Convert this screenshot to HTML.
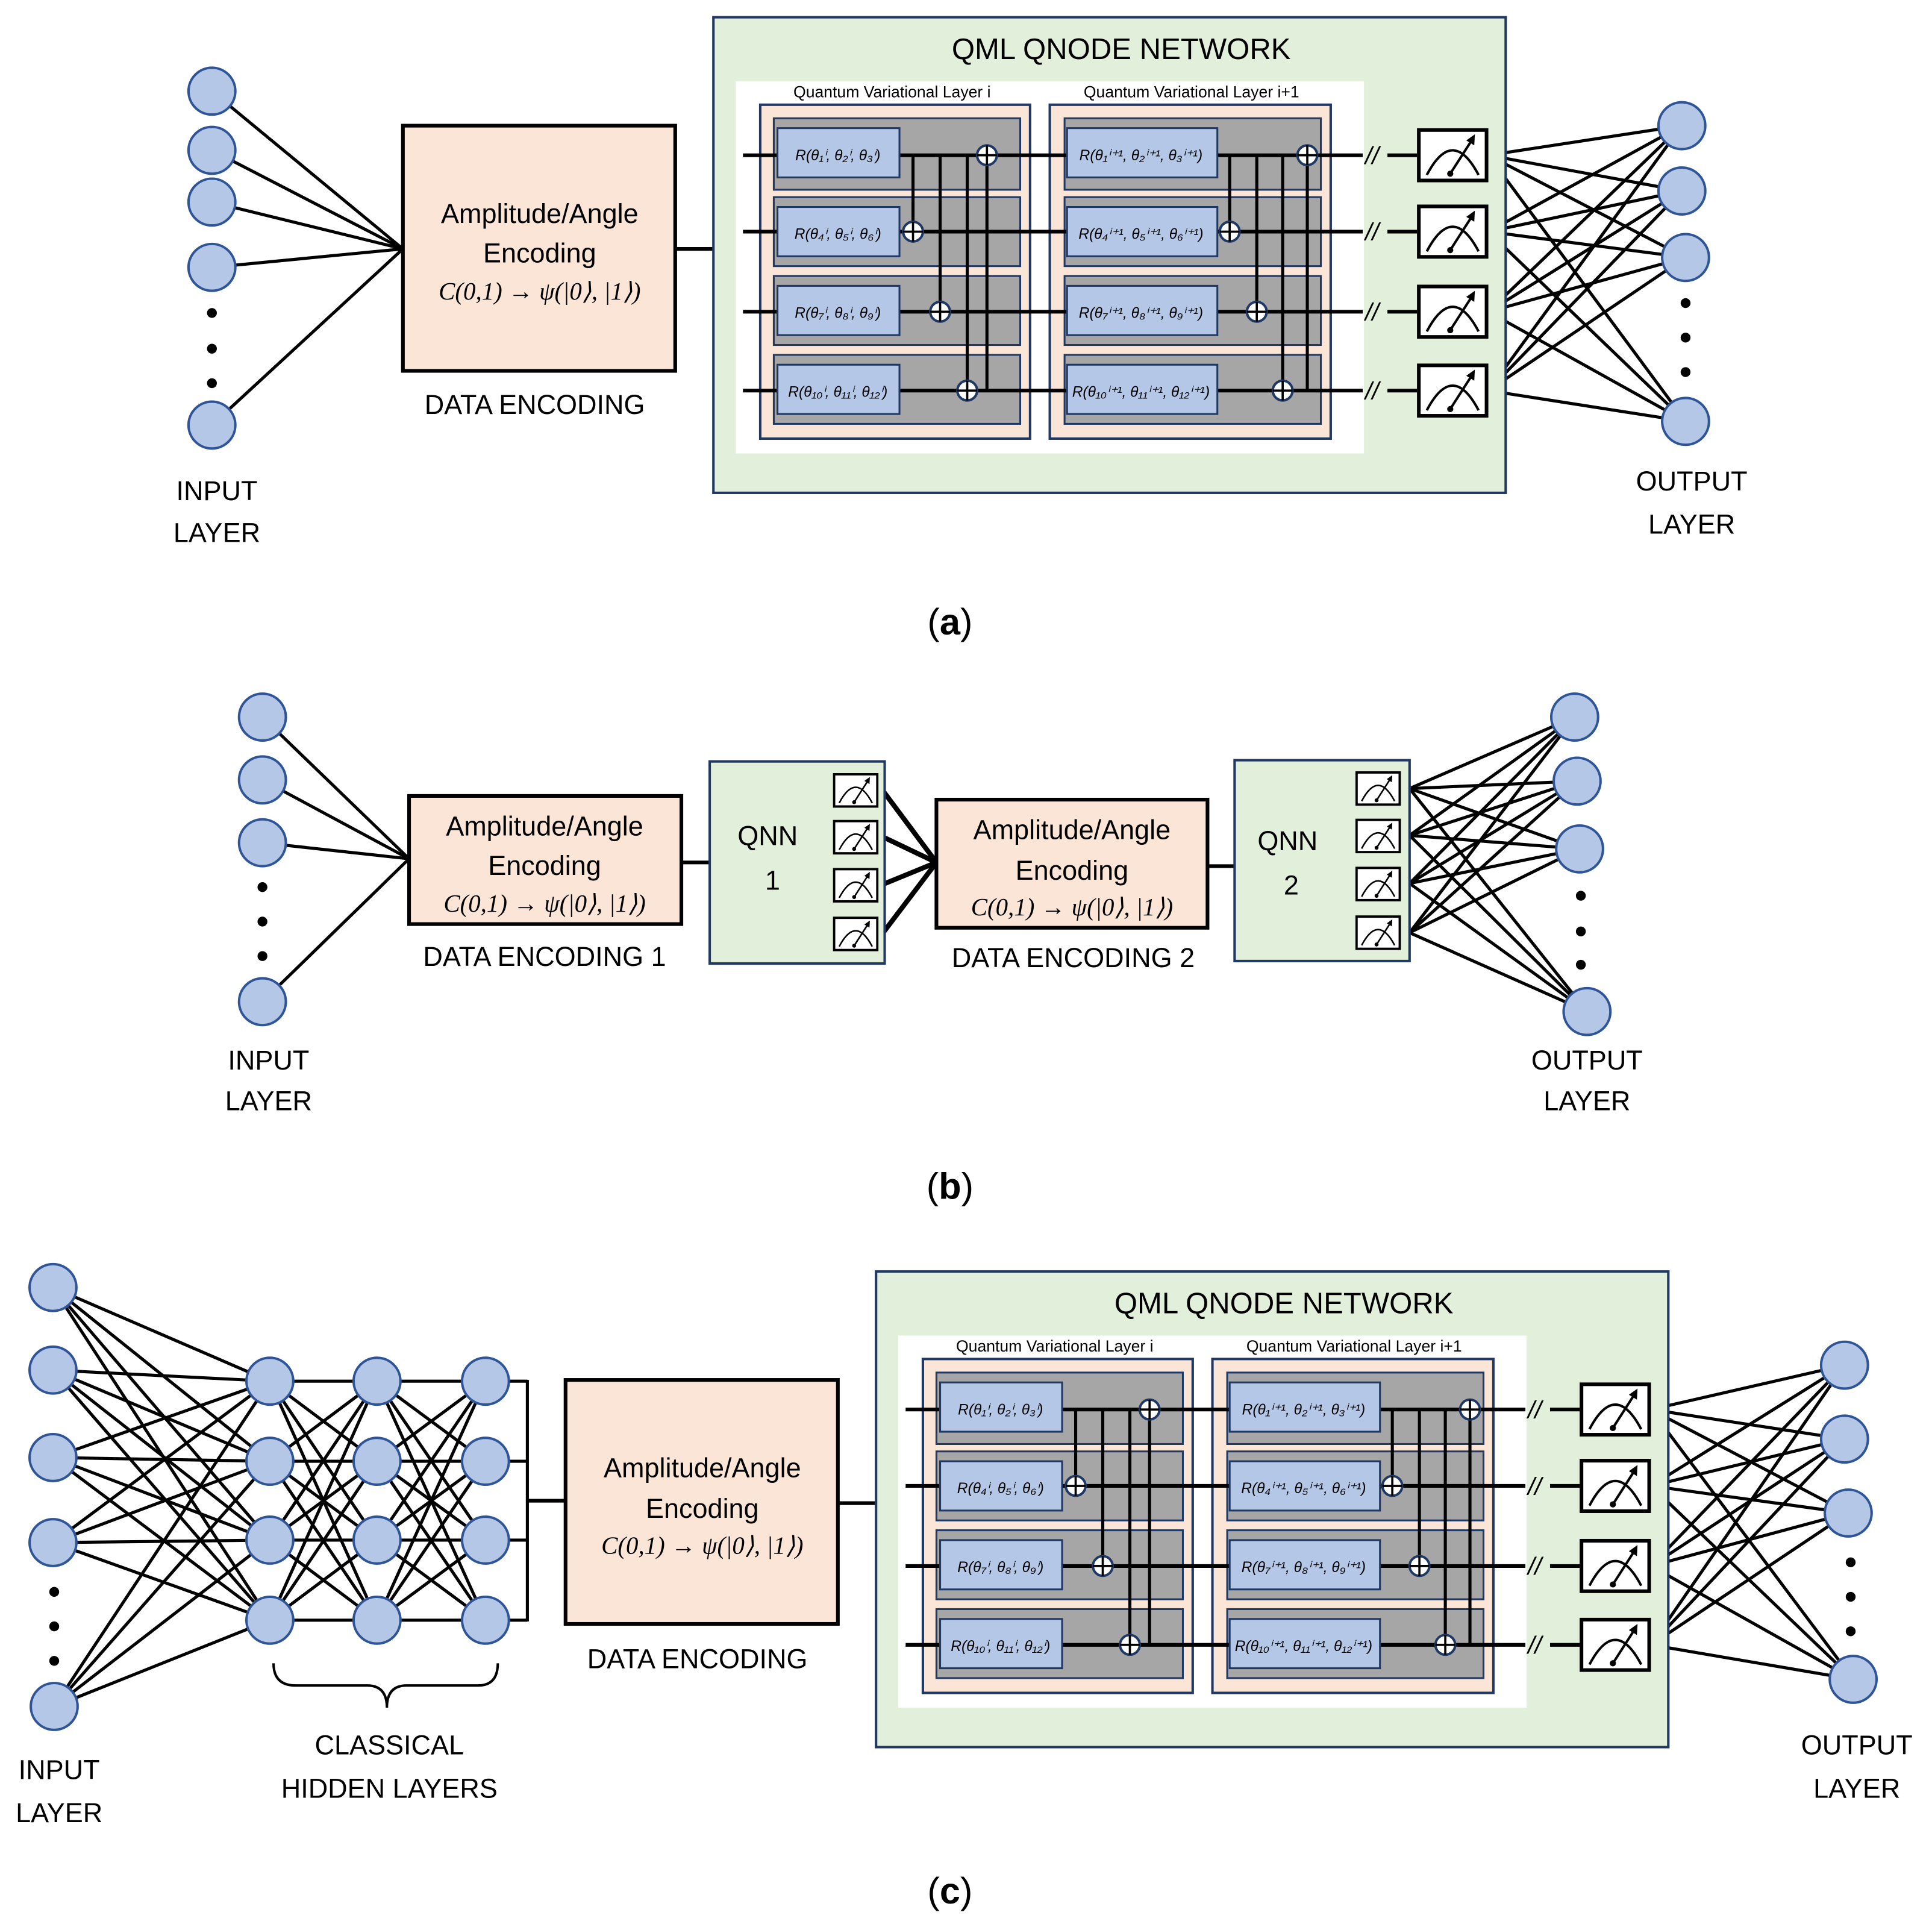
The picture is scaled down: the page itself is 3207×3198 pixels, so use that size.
<!DOCTYPE html>
<html><head><meta charset="utf-8"><style>
html,body{margin:0;padding:0;background:#fff}
svg{display:block}
text{font-family:"Liberation Sans",sans-serif;fill:#000}
.g{font-family:"Liberation Serif",serif;font-style:italic;font-size:12px}
.f{font-family:"Liberation Serif",serif;font-style:italic;font-size:20px}
</style></head><body>
<svg id="s" xmlns="http://www.w3.org/2000/svg" xmlns:xlink="http://www.w3.org/1999/xlink" width="3207" height="3198" viewBox="0 0 1568 1564" preserveAspectRatio="none">
<defs>
<symbol id="m" viewBox="0 0 58 44">
<rect x="1.5" y="1.5" width="55" height="41" fill="#fff" stroke="#000" stroke-width="3"/>
<path d="M8 38 Q29 -2 50 38" fill="none" stroke="#000" stroke-width="2"/>
<line x1="27" y1="37" x2="45" y2="9" stroke="#000" stroke-width="2"/>
<path d="M47 5 L46.5 14 L40 10 Z" fill="#000"/>
<circle cx="27" cy="37" r="2.5" fill="#000"/>
</symbol>
<g id="qml">
<rect x="579" y="14" width="643" height="386" fill="#e2efda" stroke="#1f3864" stroke-width="2"/>
<text x="910" y="48" font-size="24" text-anchor="middle">QML QNODE NETWORK</text>
<rect x="597" y="66" width="510" height="302" fill="#fff"/>
<text x="724" y="79" font-size="13" text-anchor="middle">Quantum Variational Layer i</text>
<text x="967" y="79" font-size="13" text-anchor="middle">Quantum Variational Layer i+1</text>
<rect x="617" y="85" width="219" height="271" fill="#fbe5d6" stroke="#1f3864" stroke-width="2"/>
<rect x="852" y="85" width="228" height="271" fill="#fbe5d6" stroke="#1f3864" stroke-width="2"/>
<g fill="#a6a6a6" stroke="#1f3864" stroke-width="1.5">
<rect x="628" y="96" width="200" height="58"/><rect x="628" y="160" width="200" height="56"/>
<rect x="628" y="224" width="200" height="56"/><rect x="628" y="288" width="200" height="56"/>
<rect x="864" y="96" width="208" height="58"/><rect x="864" y="160" width="208" height="56"/>
<rect x="864" y="224" width="208" height="56"/><rect x="864" y="288" width="208" height="56"/>
</g>
<g id="w"></g>
<g fill="#b4c7e7" stroke="#1f3864" stroke-width="1.5">
<rect x="631" y="104" width="99" height="40"/><rect x="631" y="168" width="99" height="40"/>
<rect x="631" y="232" width="99" height="40"/><rect x="631" y="296" width="99" height="40"/>
<rect x="866" y="104" width="122" height="40"/><rect x="866" y="168" width="122" height="40"/>
<rect x="866" y="232" width="122" height="40"/><rect x="866" y="296" width="122" height="40"/>
</g>
<g class="g" text-anchor="middle">
<text x="680" y="130">R(θ₁ⁱ, θ₂ⁱ, θ₃ⁱ)</text>
<text x="680" y="194">R(θ₄ⁱ, θ₅ⁱ, θ₆ⁱ)</text>
<text x="680" y="258">R(θ₇ⁱ, θ₈ⁱ, θ₉ⁱ)</text>
<text x="680" y="322">R(θ₁₀ⁱ, θ₁₁ⁱ, θ₁₂ⁱ)</text>
<text x="926" y="130">R(θ₁ⁱ⁺¹, θ₂ⁱ⁺¹, θ₃ⁱ⁺¹)</text>
<text x="926" y="194">R(θ₄ⁱ⁺¹, θ₅ⁱ⁺¹, θ₆ⁱ⁺¹)</text>
<text x="926" y="258">R(θ₇ⁱ⁺¹, θ₈ⁱ⁺¹, θ₉ⁱ⁺¹)</text>
<text x="926" y="322">R(θ₁₀ⁱ⁺¹, θ₁₁ⁱ⁺¹, θ₁₂ⁱ⁺¹)</text>
</g>
<g id="c"></g>
<g font-size="20" font-style="italic">
<text x="1108" y="133">//</text><text x="1108" y="195">//</text><text x="1108" y="260">//</text><text x="1108" y="324">//</text>
</g>
<use xlink:href="#m" x="1150" y="104" width="58" height="44"/>
<use xlink:href="#m" x="1150" y="166" width="58" height="44"/>
<use xlink:href="#m" x="1150" y="231" width="58" height="44"/>
<use xlink:href="#m" x="1150" y="295" width="58" height="44"/>
</g>
</defs>
<g id="lines"></g>
<use xlink:href="#qml"/>
<use xlink:href="#qml" transform="translate(132,1018)"/>
<rect x="327" y="102" width="221" height="199" fill="#fbe5d6" stroke="#000" stroke-width="3"/>
<g font-size="22" text-anchor="middle">
<text x="438" y="181">Amplitude/Angle</text><text x="438" y="213">Encoding</text>
<text x="434" y="336">DATA ENCODING</text>
<text x="176" y="406">INPUT</text><text x="176" y="440">LAYER</text>
<text x="1373" y="398">OUTPUT</text><text x="1373" y="433">LAYER</text>
</g>
<text class="f" x="438" y="243" text-anchor="middle">C(0,1) → ψ(|0⟩, |1⟩)</text>
<text x="771" y="515" font-family="Liberation Serif" font-size="30" text-anchor="middle">(<tspan font-weight="bold">a</tspan>)</text>
<rect x="332" y="646" width="221" height="104" fill="#fbe5d6" stroke="#000" stroke-width="3"/>
<rect x="760" y="649" width="220" height="104" fill="#fbe5d6" stroke="#000" stroke-width="3"/>
<rect x="576" y="618" width="142" height="164" fill="#e2efda" stroke="#1f3864" stroke-width="2"/>
<rect x="1002" y="617" width="142" height="163" fill="#e2efda" stroke="#1f3864" stroke-width="2"/>
<g font-size="22" text-anchor="middle">
<text x="442" y="678">Amplitude/Angle</text><text x="442" y="710">Encoding</text>
<text x="442" y="784">DATA ENCODING 1</text>
<text x="870" y="681">Amplitude/Angle</text><text x="870" y="714">Encoding</text>
<text x="871" y="785">DATA ENCODING 2</text>
<text x="623" y="686">QNN</text><text x="627" y="722">1</text>
<text x="1045" y="690">QNN</text><text x="1048" y="726">2</text>
<text x="218" y="868">INPUT</text><text x="218" y="901">LAYER</text>
<text x="1288" y="868">OUTPUT</text><text x="1288" y="901">LAYER</text>
</g>
<text class="f" x="442" y="740" text-anchor="middle">C(0,1) → ψ(|0⟩, |1⟩)</text>
<text class="f" x="870" y="743" text-anchor="middle">C(0,1) → ψ(|0⟩, |1⟩)</text>
<use xlink:href="#m" x="676" y="627" width="37" height="29"/>
<use xlink:href="#m" x="676" y="665" width="37" height="29"/>
<use xlink:href="#m" x="676" y="704" width="37" height="29"/>
<use xlink:href="#m" x="676" y="743" width="37" height="30"/>
<use xlink:href="#m" x="1100" y="626" width="37" height="28"/>
<use xlink:href="#m" x="1100" y="664" width="37" height="29"/>
<use xlink:href="#m" x="1100" y="703" width="37" height="29"/>
<use xlink:href="#m" x="1100" y="742" width="37" height="30"/>
<text x="771" y="973" font-family="Liberation Serif" font-size="30" text-anchor="middle">(<tspan font-weight="bold">b</tspan>)</text>
<rect x="459" y="1120" width="221" height="198" fill="#fbe5d6" stroke="#000" stroke-width="3"/>
<g font-size="22" text-anchor="middle">
<text x="570" y="1199">Amplitude/Angle</text><text x="570" y="1232">Encoding</text>
<text x="566" y="1354">DATA ENCODING</text>
<text x="316" y="1424">CLASSICAL</text><text x="316" y="1459">HIDDEN LAYERS</text>
<text x="48" y="1444">INPUT</text><text x="48" y="1479">LAYER</text>
<text x="1507" y="1424">OUTPUT</text><text x="1507" y="1459">LAYER</text>
</g>
<text class="f" x="570" y="1261" text-anchor="middle">C(0,1) → ψ(|0⟩, |1⟩)</text>
<path d="M222 1350 Q222 1368 240 1368 L298 1368 Q314 1368 314 1386 Q314 1368 330 1368 L388 1368 Q404 1368 404 1350" fill="none" stroke="#000" stroke-width="2"/>
<text x="771" y="1545" font-family="Liberation Serif" font-size="30" text-anchor="middle">(<tspan font-weight="bold">c</tspan>)</text>
<g id="nodes"></g>
<script>
var NS="http://www.w3.org/2000/svg";
function el(p,t,a){var e=document.createElementNS(NS,t);for(var k in a)e.setAttribute(k,a[k]);document.getElementById(p).appendChild(e);return e;}
function L(p,x1,y1,x2,y2,w){el(p,"line",{x1:x1,y1:y1,x2:x2,y2:y2,stroke:"#000","stroke-width":w||2.5});}
function N(x,y,r){el("nodes","circle",{cx:x,cy:y,r:r||19,fill:"#b4c7e7",stroke:"#2f5597","stroke-width":2});}
function D(x,y){el("nodes","circle",{cx:x,cy:y,r:4,fill:"#000"});}
function bip(A,B,w){A.forEach(function(a){B.forEach(function(b){L("lines",a[0],a[1],b[0],b[1],w);});});}
var W=[126,188,253,317];
W.forEach(function(y){L("w",603,y,1106,y,3);L("w",1126,y,1150,y,3);});
function cnot(x,yc,yt){L("c",x,yc,x,yt,2.5);el("c","circle",{cx:x,cy:yt,r:8,fill:"#fff",stroke:"#1f3864","stroke-width":2});L("c",x-8,yt,x+8,yt,1.8);L("c",x,yt-8,x,yt+8,1.8);}
cnot(741,126,188);cnot(763,126,253);cnot(785,126,317);cnot(801,317,126);
cnot(998,126,188);cnot(1020,126,253);cnot(1041,126,317);cnot(1061,317,126);
var ia=[[172,74],[172,122],[172,164],[172,217],[172,345]];
bip(ia,[[327,202]]);
L("lines",548,202,579,202,3);
var ma=[[1208,126],[1208,188],[1208,253],[1208,317]];
var oa=[[1365,102],[1365,155],[1368,209],[1368,342]];
bip(ma,oa);
ia.forEach(function(p){N(p[0],p[1]);});[254,283,311].forEach(function(y){D(172,y);});
oa.forEach(function(p){N(p[0],p[1]);});[246,274,302].forEach(function(y){D(1368,y);});
var ib=[[213,582],[213,633],[213,684],[213,813]];
bip(ib,[[332,697]]);
L("lines",553,700,576,700,3);
bip([[716,641],[716,679],[716,718],[716,758]],[[760,700]],4);
L("lines",980,703,1002,703,3);
var ob=[[1278,582],[1280,634],[1282,689],[1288,821]];
bip([[1144,640],[1144,678],[1144,717],[1144,757]],ob);
ib.forEach(function(p){N(p[0],p[1]);});[720,748,776].forEach(function(y){D(213,y);});
ob.forEach(function(p){N(p[0],p[1]);});[727,756,783].forEach(function(y){D(1283,y);});
var ic=[[43,1045],[43,1112],[43,1183],[43,1252],[44,1385]];
var hy=[1121,1186,1250,1315];
var h1=hy.map(function(y){return[219,y];}),h2=hy.map(function(y){return[306,y];}),h3=hy.map(function(y){return[394,y];});
bip(ic,h1);bip(h1,h2);bip(h2,h3);
hy.forEach(function(y){L("lines",394,y,428,y,2.5);});
L("lines",428,1120,428,1316,2.5);L("lines",428,1218,459,1218,3);
L("lines",680,1220,711,1220,3);
var mc=[[1340,1144],[1340,1206],[1340,1271],[1340,1335]];
var oc=[[1497,1108],[1497,1168],[1500,1228],[1504,1363]];
bip(mc,oc);
ic.forEach(function(p){N(p[0],p[1]);});[1292,1320,1348].forEach(function(y){D(44,y);});
h1.concat(h2,h3).forEach(function(p){N(p[0],p[1]);});
oc.forEach(function(p){N(p[0],p[1]);});[1268,1296,1324].forEach(function(y){D(1502,y);});
</script>
</svg>
</body></html>
